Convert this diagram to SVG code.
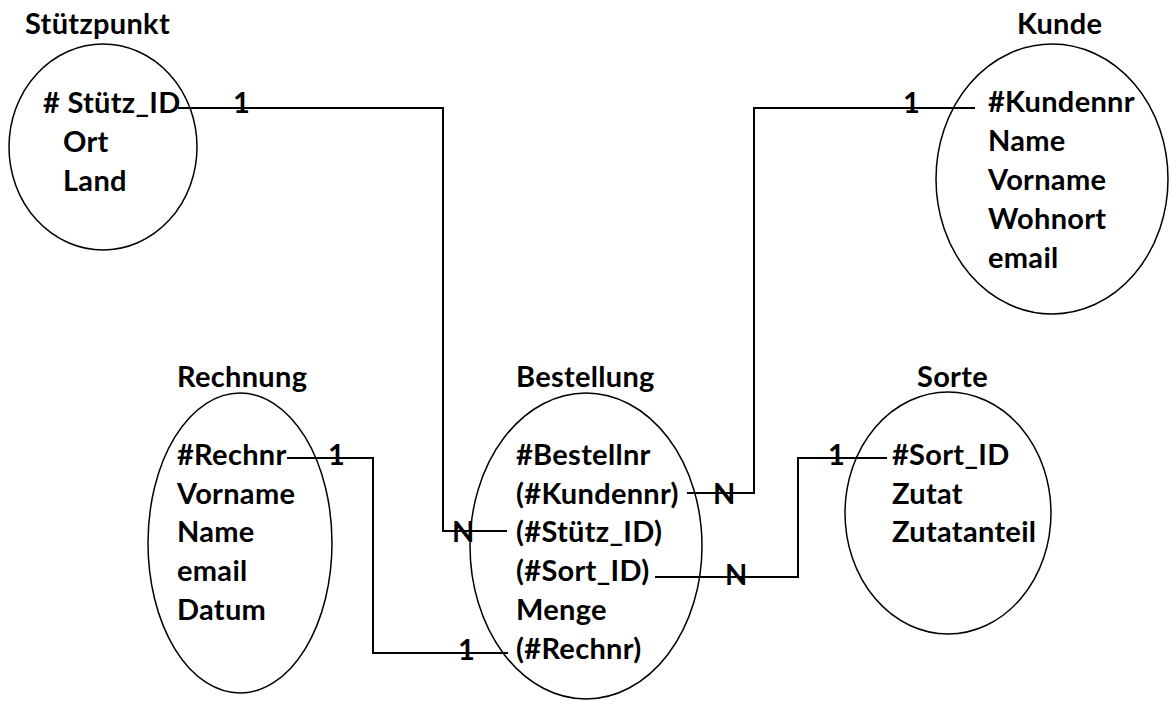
<svg xmlns="http://www.w3.org/2000/svg" width="1169" height="702" viewBox="0 0 1169 702">
<style>
text{font-family:Lato,"Liberation Sans",sans-serif;font-weight:700;font-size:29px;letter-spacing:0.3px;fill:#000}
.ent{fill:#fff;stroke:#000;stroke-width:1.5}
.con{fill:none;stroke:#000;stroke-width:2}
</style>
<rect width="1169" height="702" fill="#fff"/>
<g id="stuetzpunkt">
<ellipse class="ent" cx="103" cy="147" rx="94" ry="103"/>
<text x="25" y="34">Stützpunkt</text>
<text x="43" y="113"># Stütz_ID</text>
<text x="63" y="152">Ort</text>
<text x="63" y="191">Land</text>
</g>
<g id="kunde">
<ellipse class="ent" cx="1052" cy="179" rx="116" ry="135"/>
<text x="1017" y="34">Kunde</text>
<text x="988" y="112">#Kundennr</text>
<text x="988" y="151">Name</text>
<text x="988" y="190">Vorname</text>
<text x="988" y="229">Wohnort</text>
<text x="988" y="268">email</text>
</g>
<g id="rechnung">
<ellipse class="ent" cx="240" cy="543" rx="92" ry="150"/>
<text x="177" y="387">Rechnung</text>
<text x="177" y="465">#Rechnr</text>
<text x="177" y="504">Vorname</text>
<text x="177" y="542">Name</text>
<text x="177" y="581">email</text>
<text x="177" y="620">Datum</text>
</g>
<g id="bestellung">
<ellipse class="ent" cx="586" cy="546" rx="116" ry="153"/>
<text x="516" y="387">Bestellung</text>
<text x="516" y="465">#Bestellnr</text>
<text x="516" y="504">(#Kundennr)</text>
<text x="516" y="542">(#Stütz_ID)</text>
<text x="516" y="581">(#Sort_ID)</text>
<text x="516" y="620">Menge</text>
<text x="516" y="659">(#Rechnr)</text>
</g>
<g id="sorte">
<ellipse class="ent" cx="948" cy="513" rx="103" ry="121"/>
<text x="917" y="387">Sorte</text>
<text x="892" y="465">#Sort_ID</text>
<text x="892" y="504">Zutat</text>
<text x="892" y="542">Zutatanteil</text>
</g>
<g id="connectors">
<polyline class="con" points="178,108 443,108 443,531 507,531"/>
<polyline class="con" points="975,108 754,108 754,493 687,493"/>
<polyline class="con" points="287,458 373,458 373,653 508,653"/>
<polyline class="con" points="655,577 798,577 798,458 887,458"/>
<text x="233" y="113">1</text>
<text x="452" y="542">N</text>
<text x="903" y="113">1</text>
<text x="713" y="504">N</text>
<text x="328" y="465">1</text>
<text x="458" y="660">1</text>
<text x="725" y="585">N</text>
<text x="828" y="465">1</text>
</g>
</svg>
